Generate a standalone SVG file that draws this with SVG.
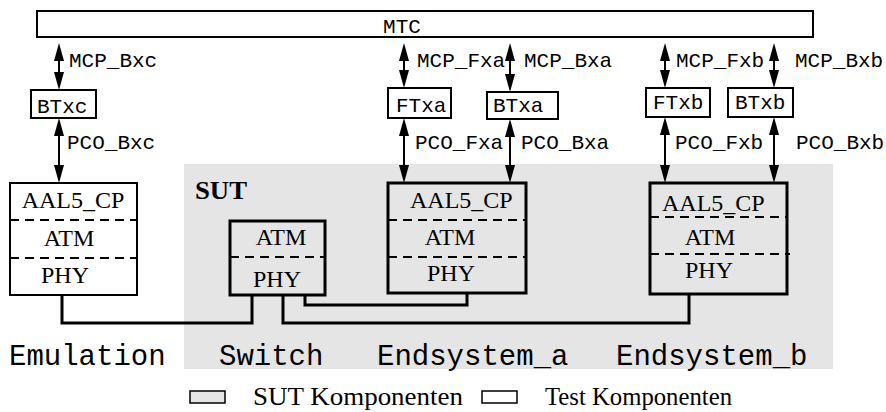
<svg xmlns="http://www.w3.org/2000/svg" width="886" height="412" viewBox="0 0 886 412">
<defs>
<marker id="ah" markerUnits="userSpaceOnUse" markerWidth="18" markerHeight="12" viewBox="0 0 18 12" refX="14" refY="6" orient="auto-start-reverse">
<path d="M0,1 L18,6 L0,11 z" fill="#000"/>
</marker>
<style>
.box{fill:#fff;stroke:#000;stroke-width:2}
.sut{fill:none;stroke:#000;stroke-width:3}
.dash{stroke:#000;stroke-width:1.8;stroke-dasharray:9 6;fill:none}
.mono{font-family:"Liberation Mono","Courier New",monospace;font-size:21px;fill:#000}
.big{font-family:"Liberation Mono","Courier New",monospace;font-size:29px;fill:#000}
.ser{font-family:"Liberation Serif","Times New Roman",serif;font-size:24px;fill:#000}
.leg{font-family:"Liberation Serif","Times New Roman",serif;font-size:26px;fill:#000}
.arr{stroke:#000;stroke-width:2;fill:none;marker-start:url(#ah);marker-end:url(#ah)}
.wire{stroke:#000;stroke-width:3;fill:none}
</style>
</defs>
<rect x="184" y="164" width="649" height="205" fill="#e5e5e5"/>
<g id="mtc">
<rect class="box" x="37" y="11" width="776" height="26"/>
<text class="mono" x="402" y="33" text-anchor="middle">MTC</text>
</g>
<g id="btxc"><rect class="box" x="31" y="90" width="65" height="28"/><text class="mono" x="37" y="113">BTxc</text></g>
<g id="ftxa"><rect class="box" x="388" y="88" width="63" height="30"/><text class="mono" x="396" y="112">FTxa</text></g>
<g id="btxa"><rect class="box" x="487" y="92" width="71" height="27"/><text class="mono" x="493" y="112">BTxa</text></g>
<g id="ftxb"><rect class="box" x="646" y="88" width="64" height="29"/><text class="mono" x="653" y="109">FTxb</text></g>
<g id="btxb"><rect class="box" x="728" y="88" width="65" height="29"/><text class="mono" x="735" y="109">BTxb</text></g>
<g id="emulation">
<rect class="box" x="10" y="183" width="127" height="112"/>
<line class="dash" x1="10" y1="220" x2="137" y2="220"/>
<line class="dash" x1="10" y1="258" x2="137" y2="258"/>
<text class="ser" x="73" y="208" text-anchor="middle">AAL5_CP</text>
<text class="ser" x="69" y="246" text-anchor="middle">ATM</text>
<text class="ser" x="65" y="283" text-anchor="middle">PHY</text>
</g>
<g id="switch">
<rect class="sut" x="230" y="221" width="95" height="74"/>
<line class="dash" x1="230" y1="257" x2="325" y2="257"/>
<text class="ser" x="281" y="245" text-anchor="middle">ATM</text>
<text class="ser" x="277" y="287" text-anchor="middle">PHY</text>
</g>
<g id="endsystem_a">
<rect class="sut" x="388" y="183" width="138" height="110"/>
<line class="dash" x1="388" y1="220" x2="526" y2="220"/>
<line class="dash" x1="388" y1="257" x2="526" y2="257"/>
<text class="ser" x="410" y="208">AAL5_CP</text>
<text class="ser" x="450" y="245" text-anchor="middle">ATM</text>
<text class="ser" x="451" y="281" text-anchor="middle">PHY</text>
</g>
<g id="endsystem_b">
<rect class="sut" x="650" y="183" width="137" height="111"/>
<line class="dash" x1="650" y1="217" x2="787" y2="217"/>
<line class="dash" x1="650" y1="254" x2="790" y2="254"/>
<text class="ser" x="662" y="211">AAL5_CP</text>
<text class="ser" x="710" y="245" text-anchor="middle">ATM</text>
<text class="ser" x="709" y="278" text-anchor="middle">PHY</text>
</g>
<g id="connectors">
<line class="arr" x1="59" y1="47" x2="59" y2="86"/>
<line class="arr" x1="404" y1="47" x2="404" y2="84"/>
<line class="arr" x1="510" y1="47" x2="510" y2="88"/>
<line class="arr" x1="665" y1="47" x2="665" y2="84"/>
<line class="arr" x1="774" y1="47" x2="774" y2="84"/>
<line class="arr" x1="59" y1="122" x2="59" y2="179"/>
<line class="arr" x1="404" y1="122" x2="404" y2="179"/>
<line class="arr" x1="510" y1="123" x2="510" y2="179"/>
<line class="arr" x1="665" y1="121" x2="665" y2="179"/>
<line class="arr" x1="774" y1="121" x2="774" y2="179"/>
<path class="wire" d="M62,295 V323 H252 V295"/>
<path class="wire" d="M283,295 V323 H689 V294"/>
<path class="wire" d="M305,295 V305 H467 V293"/>
</g>
<g id="labels">
<text class="mono" x="69" y="67">MCP_Bxc</text>
<text class="mono" x="67" y="149">PCO_Bxc</text>
<text class="mono" x="417" y="67">MCP_Fxa</text>
<text class="mono" x="524" y="67">MCP_Bxa</text>
<text class="mono" x="415" y="149">PCO_Fxa</text>
<text class="mono" x="521" y="149">PCO_Bxa</text>
<text class="mono" x="676" y="67">MCP_Fxb</text>
<text class="mono" x="795" y="67">MCP_Bxb</text>
<text class="mono" x="675" y="149">PCO_Fxb</text>
<text class="mono" x="796" y="149">PCO_Bxb</text>
<text x="195" y="199" font-family="Liberation Serif, Times New Roman, serif" font-weight="bold" font-size="26" textLength="52" lengthAdjust="spacingAndGlyphs">SUT</text>
<text class="big" x="9" y="365">Emulation</text>
<text class="big" x="219" y="365">Switch</text>
<text class="big" x="377" y="365">Endsystem_a</text>
<text class="big" x="616" y="365">Endsystem_b</text>
</g>
<g id="legend">
<rect x="190" y="391" width="35" height="12" fill="#e5e5e5" stroke="#000" stroke-width="1.5"/>
<text class="leg" x="253" y="405" textLength="210" lengthAdjust="spacingAndGlyphs">SUT Komponenten</text>
<rect x="482" y="391" width="35" height="12" fill="#fff" stroke="#000" stroke-width="1.5"/>
<text class="leg" x="545" y="405" textLength="187" lengthAdjust="spacingAndGlyphs">Test Komponenten</text>
</g>
</svg>
